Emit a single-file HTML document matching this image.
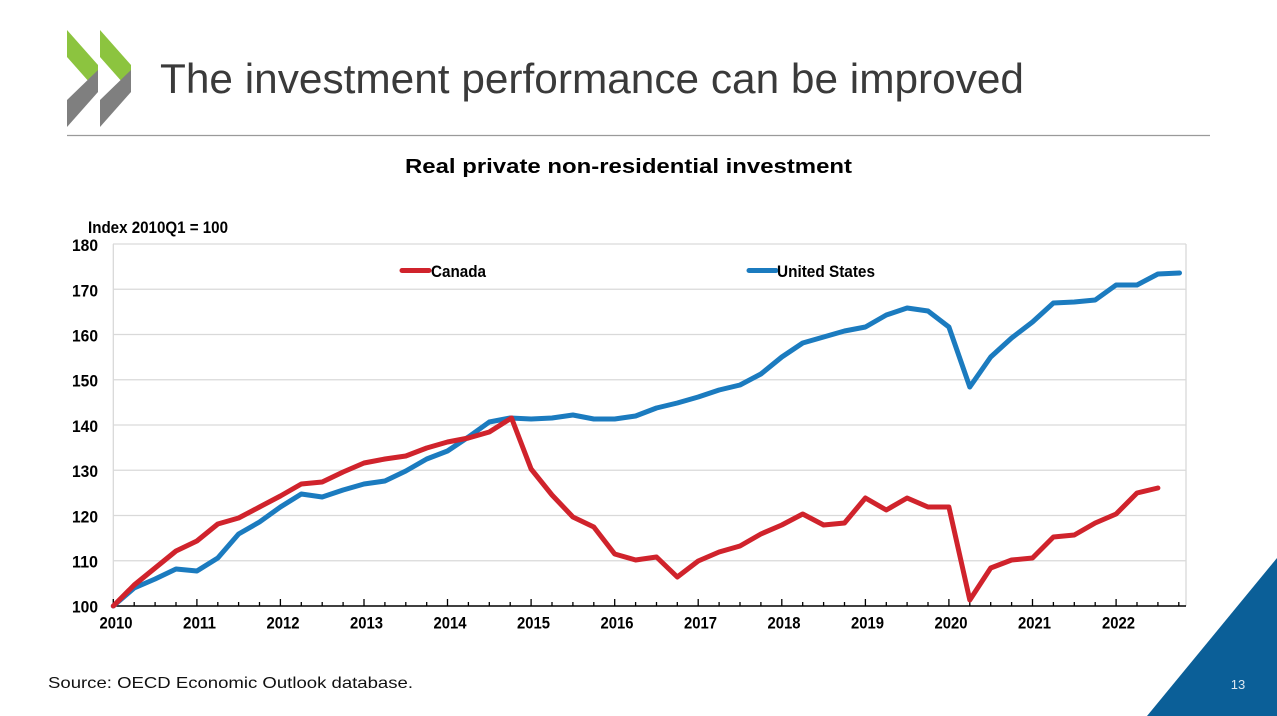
<!DOCTYPE html>
<html>
<head>
<meta charset="utf-8">
<style>
  html,body{margin:0;padding:0;background:#fff;}
  body{width:1277px;height:716px;overflow:hidden;}
  svg{display:block;}
  .nb{font-family:"Liberation Sans Narrow","Liberation Sans",Arial,sans-serif;font-weight:bold;fill:#000;}
</style>
</head>
<body>
<svg width="1277" height="716" viewBox="0 0 1277 716" xmlns="http://www.w3.org/2000/svg">
  <rect x="0" y="0" width="1277" height="716" fill="#fff"/>

  <!-- OECD logo -->
  <g>
    <polygon points="67,30 98,65 98,92 67,57" fill="#8cc43f"/>
    <polygon points="98,70 98,92 67,127 67,100" fill="#7f7f7f"/>
    <polygon points="100,30 131,65 131,92 100,57" fill="#8cc43f"/>
    <polygon points="131,70 131,92 100,127 100,100" fill="#7f7f7f"/>
  </g>

  <!-- Title -->
  <text x="160" y="93" font-family="'Liberation Sans',Arial,sans-serif" font-size="42" fill="#3a3a3a" textLength="864" lengthAdjust="spacingAndGlyphs">The investment performance can be improved</text>
  <line x1="67" y1="135.5" x2="1210" y2="135.5" stroke="#9a9a9a" stroke-width="1.3"/>

  <!-- Chart title -->
  <text x="405" y="173" font-family="'Liberation Sans',Arial,sans-serif" font-weight="bold" font-size="20" fill="#000" textLength="447" lengthAdjust="spacingAndGlyphs">Real private non-residential investment</text>

  <!-- Axis unit label -->
  <text class="nb" x="88" y="233" font-size="16.5" textLength="140" lengthAdjust="spacingAndGlyphs">Index 2010Q1 = 100</text>

  <!-- Gridlines -->
  <g stroke="#d9d9d9" stroke-width="1.3">
    <line x1="113" y1="244" x2="1186" y2="244"/>
    <line x1="113" y1="289.25" x2="1186" y2="289.25"/>
    <line x1="113" y1="334.5" x2="1186" y2="334.5"/>
    <line x1="113" y1="379.75" x2="1186" y2="379.75"/>
    <line x1="113" y1="425" x2="1186" y2="425"/>
    <line x1="113" y1="470.25" x2="1186" y2="470.25"/>
    <line x1="113" y1="515.5" x2="1186" y2="515.5"/>
    <line x1="113" y1="560.75" x2="1186" y2="560.75"/>
    <line x1="113.3" y1="244" x2="113.3" y2="606"/>
    <line x1="1186" y1="244" x2="1186" y2="606"/>
  </g>

  <!-- Y labels -->
  <g class="nb" font-size="17" text-anchor="end">
    <text x="98" y="251" textLength="26" lengthAdjust="spacingAndGlyphs">180</text>
    <text x="98" y="296.5" textLength="26" lengthAdjust="spacingAndGlyphs">170</text>
    <text x="98" y="341.5" textLength="26" lengthAdjust="spacingAndGlyphs">160</text>
    <text x="98" y="386.5" textLength="26" lengthAdjust="spacingAndGlyphs">150</text>
    <text x="98" y="432" textLength="26" lengthAdjust="spacingAndGlyphs">140</text>
    <text x="98" y="477" textLength="26" lengthAdjust="spacingAndGlyphs">130</text>
    <text x="98" y="522.5" textLength="26" lengthAdjust="spacingAndGlyphs">120</text>
    <text x="98" y="567.5" textLength="26" lengthAdjust="spacingAndGlyphs">110</text>
    <text x="98" y="612.5" textLength="26" lengthAdjust="spacingAndGlyphs">100</text>
  </g>

  <!-- X axis -->
  <line x1="113" y1="606" x2="1186" y2="606" stroke="#000" stroke-width="1.5"/>
  <g stroke="#000" stroke-width="1.3">
    <path d="M113.3 599V606 M134.2 602V606 M155.1 602V606 M176.0 602V606 M196.9 599V606 M217.8 602V606 M238.6 602V606 M259.5 602V606 M280.4 599V606 M301.3 602V606 M322.2 602V606 M343.1 602V606 M364.0 599V606 M384.9 602V606 M405.8 602V606 M426.7 602V606 M447.5 599V606 M468.4 602V606 M489.3 602V606 M510.2 602V606 M531.1 599V606 M552.0 602V606 M572.9 602V606 M593.8 602V606 M614.7 599V606 M635.6 602V606 M656.5 602V606 M677.3 602V606 M698.2 599V606 M719.1 602V606 M740.0 602V606 M760.9 602V606 M781.8 599V606 M802.7 602V606 M823.6 602V606 M844.5 602V606 M865.4 599V606 M886.3 602V606 M907.1 602V606 M928.0 602V606 M948.9 599V606 M969.8 602V606 M990.7 602V606 M1011.6 602V606 M1032.5 599V606 M1053.4 602V606 M1074.3 602V606 M1095.2 602V606 M1116.1 599V606 M1137.0 602V606 M1157.9 602V606 M1178.8 602V606"/>
  </g>

  <!-- X labels -->
  <g class="nb" font-size="17" text-anchor="middle">
    <text x="116" y="628.5" textLength="33" lengthAdjust="spacingAndGlyphs">2010</text>
    <text x="199.5" y="628.5" textLength="33" lengthAdjust="spacingAndGlyphs">2011</text>
    <text x="283" y="628.5" textLength="33" lengthAdjust="spacingAndGlyphs">2012</text>
    <text x="366.5" y="628.5" textLength="33" lengthAdjust="spacingAndGlyphs">2013</text>
    <text x="450" y="628.5" textLength="33" lengthAdjust="spacingAndGlyphs">2014</text>
    <text x="533.5" y="628.5" textLength="33" lengthAdjust="spacingAndGlyphs">2015</text>
    <text x="617" y="628.5" textLength="33" lengthAdjust="spacingAndGlyphs">2016</text>
    <text x="700.5" y="628.5" textLength="33" lengthAdjust="spacingAndGlyphs">2017</text>
    <text x="784" y="628.5" textLength="33" lengthAdjust="spacingAndGlyphs">2018</text>
    <text x="867.5" y="628.5" textLength="33" lengthAdjust="spacingAndGlyphs">2019</text>
    <text x="951" y="628.5" textLength="33" lengthAdjust="spacingAndGlyphs">2020</text>
    <text x="1034.5" y="628.5" textLength="33" lengthAdjust="spacingAndGlyphs">2021</text>
    <text x="1118.5" y="628.5" textLength="33" lengthAdjust="spacingAndGlyphs">2022</text>
  </g>

  <!-- Series: United States -->
  <polyline fill="none" stroke="#1b7bbf" stroke-width="5" stroke-linejoin="round" stroke-linecap="round"
    points="113.3,606 134.2,588 155.1,579 176.0,569 196.9,571 217.8,558 238.6,534 259.5,522 280.4,507 301.3,494 322.2,497 343.1,490 364.0,484 384.9,481 405.8,471 426.7,459 447.5,451 468.4,437 489.3,422 510.2,418 531.1,419 552.0,418 572.9,415 593.8,419 614.7,419 635.6,416 656.5,408 677.3,403 698.2,397 719.1,390 740.0,385 760.9,374 781.8,357 802.7,343 823.6,337 844.5,331 865.4,327 886.3,315 907.1,308 928.0,311 948.9,327 969.8,387 990.7,357 1011.6,338 1032.5,322 1053.4,303 1074.3,302 1095.2,300 1116.1,285 1137.0,285 1157.9,274 1179.5,273"/>

  <!-- Series: Canada -->
  <polyline fill="none" stroke="#d0232c" stroke-width="5" stroke-linejoin="round" stroke-linecap="round"
    points="113.3,606 134.2,585 155.1,568 176.0,551 196.9,541 217.8,524 238.6,518 259.5,507 280.4,496 301.3,484 322.2,482 343.1,472 364.0,463 384.9,459 405.8,456 426.7,448 447.5,442 468.4,438 489.3,432 511.5,418 531.1,469 552.0,495 572.9,517 593.8,527 614.7,554 635.6,560 656.5,557 677.3,577 698.2,561 719.1,552 740.0,546 760.9,534 781.8,525 802.7,514 823.6,525 844.5,523 865.4,498 886.3,510 907.1,498 928.0,507 948.9,507 969.8,600 990.7,568 1011.6,560 1032.5,558 1053.4,537 1074.3,535 1095.2,523 1116.1,514 1137.0,493 1157.9,488"/>

  <!-- Legend -->
  <line x1="402" y1="270.5" x2="429" y2="270.5" stroke="#d0232c" stroke-width="5" stroke-linecap="round"/>
  <text class="nb" x="431" y="277" font-size="17" textLength="55" lengthAdjust="spacingAndGlyphs">Canada</text>
  <line x1="749" y1="270.5" x2="776" y2="270.5" stroke="#1b7bbf" stroke-width="5" stroke-linecap="round"/>
  <text class="nb" x="777" y="277" font-size="17" textLength="98" lengthAdjust="spacingAndGlyphs">United States</text>

  <!-- Source -->
  <text x="48" y="688" font-family="'Liberation Sans',Arial,sans-serif" font-size="16" fill="#111" textLength="365" lengthAdjust="spacingAndGlyphs">Source: OECD Economic Outlook database.</text>

  <!-- Corner triangle -->
  <polygon points="1147,716 1277,558 1277,716" fill="#0b5f98"/>
  <text x="1238" y="689" font-family="'Liberation Sans',Arial,sans-serif" font-size="13" fill="#dde8f2" text-anchor="middle">13</text>
</svg>
</body>
</html>
